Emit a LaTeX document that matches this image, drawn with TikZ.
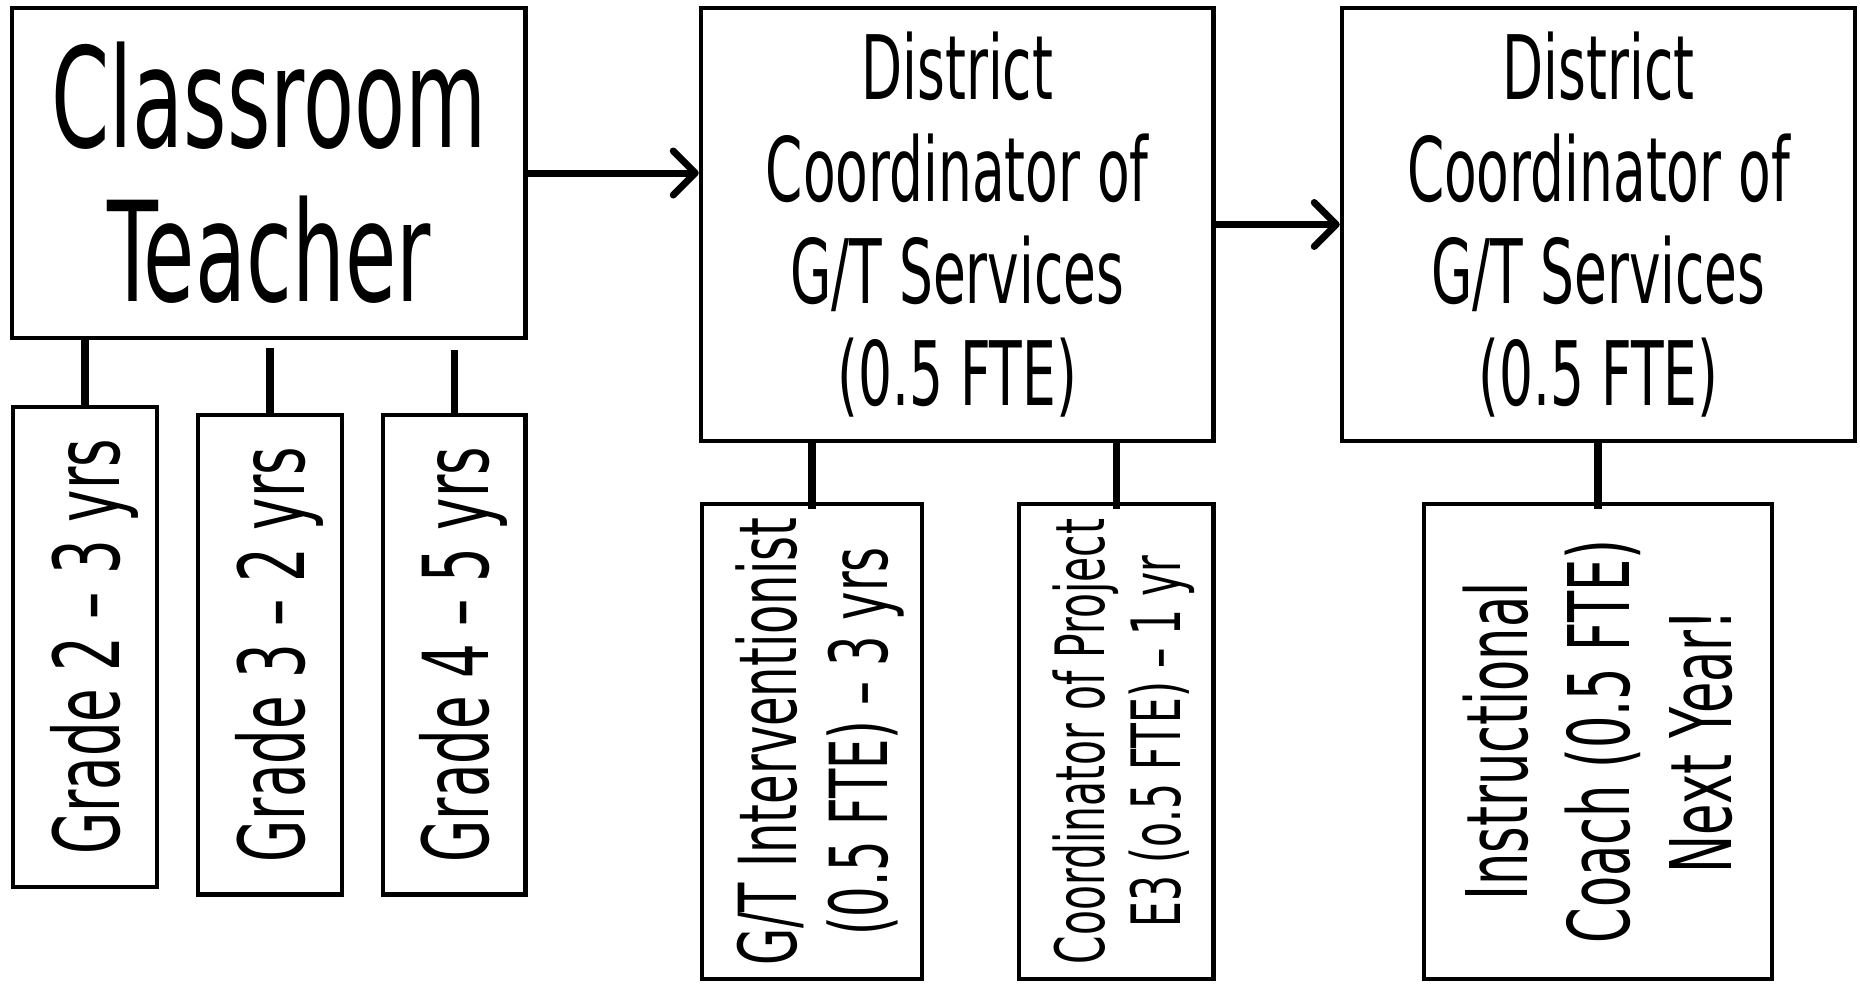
\documentclass[tikz,border=0pt]{standalone}
\usepackage{fontspec}
\setmainfont[FakeStretch=0.6]{DejaVu Sans}
\usetikzlibrary{arrows.meta}
\begin{document}
\begin{tikzpicture}[x=1pt,y=-1pt,
 box/.style={draw=black,line width=4.5pt,inner sep=0pt,align=center,text=black},
 nodepth/.style={text depth=0pt},
 conn/.style={draw=black,line width=7.5pt},
 arr/.style={draw=black,line width=7pt,-{Straight Barb[length=22pt,width=44pt,line cap=round,line join=round]}},
]
\fill[white] (0,0) rectangle (1860,983);
\useasboundingbox (0,0) rectangle (1860,983);

% top row
\node[box, minimum width=513.5pt, minimum height=330pt, font=\fontsize{139}{154}\selectfont]
  (teacher) at (268.75,173) {Classroom\\Teacher};
\node[box, minimum width=512.5pt, minimum height=433pt, font=\fontsize{89}{102}\selectfont]
  (dc1) at (957.25,224.5) {District\\Coordinator of\\G/T Services\\(0.5 FTE)};
\node[box, minimum width=513pt, minimum height=433pt, font=\fontsize{89}{102}\selectfont]
  (dc2) at (1598.5,224.5) {District\\Coordinator of\\G/T Services\\(0.5 FTE)};

% grade boxes
\node[box, nodepth, rotate=90, minimum width=480pt, minimum height=144pt, font=\fontsize{91}{100}\selectfont]
  (g2) at (85,647) {Grade 2 – 3 yrs};
\node[box, nodepth, rotate=90, minimum width=479.5pt, minimum height=144pt, font=\fontsize{91}{100}\selectfont]
  (g3) at (270,654.75) {Grade 3 – 2 yrs};
\node[box, nodepth, rotate=90, minimum width=479.5pt, minimum height=142.5pt, font=\fontsize{91}{100}\selectfont]
  (g4) at (454.25,654.75) {Grade 4 – 5 yrs};

% lower boxes
\node[box, nodepth, rotate=90, minimum width=475pt, minimum height=220pt, font=\fontsize{80}{91}\selectfont]
  (gti) at (812,741.5) {G/T Interventionist\\(0.5 FTE) – 3 yrs};
\node[box, nodepth, rotate=90, minimum width=475pt, minimum height=194.5pt, font=\fontsize{68}{76}\selectfont]
  (cp) at (1116.25,741.5) {Coordinator of Project\\E3 (o.5 FTE) – 1 yr};
\node[box, rotate=90, minimum width=475pt, minimum height=348pt, font=\fontsize{85}{102}\selectfont]
  (ic) at (1598,741.5) {Instructional\\Coach (0.5 FTE)\\Next Year!};

% connectors
\draw[conn] (teacher.south -| g2.east) -- (g2.east);
\draw[conn, shorten <=8pt] (teacher.south -| g3.east) -- (g3.east);
\draw[conn, shorten <=10pt] (teacher.south -| g4.east) -- (g4.east);
\draw[conn, shorten >=-7pt] (dc1.south -| gti.east) -- (gti.east);
\draw[conn, shorten >=-7pt] (dc1.south -| cp.east) -- (cp.east);
\draw[conn, shorten >=-7pt] (dc2.south -| ic.east) -- (ic.east);

% arrows
\draw[arr] (teacher.east) -- (teacher.east -| dc1.west);
\draw[arr] (dc1.east) -- (dc1.east -| dc2.west);
\end{tikzpicture}
\end{document}
